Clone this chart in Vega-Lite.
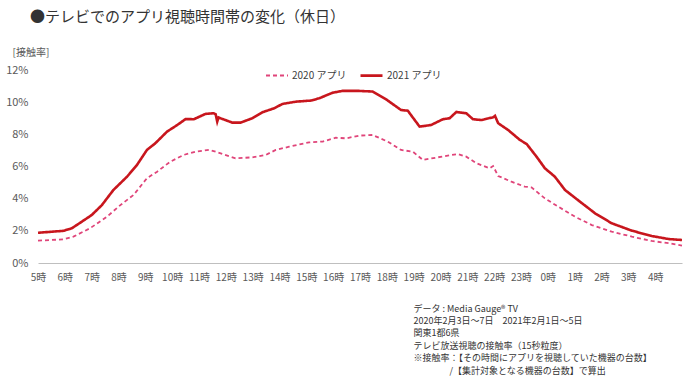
{
  "$schema": "https://vega.github.io/schema/vega-lite/v6.json",
  "autosize": {"type": "none"},
  "width": 644,
  "height": 193,
  "padding": {"left": 38, "top": 70, "right": 18, "bottom": 118},
  "background": "white",
  "config": {
    "view": {"stroke": null},
    "font": "Noto Sans CJK JP"
  },
  "title": {
    "text": "●テレビでのアプリ視聴時間帯の変化（休日）",
    "anchor": "start",
    "frame": "group",
    "fontSize": 15,
    "fontWeight": "normal",
    "color": "#333333",
    "dx": -8,
    "offset": 10,
    "dy": -12
  },
  "data": {
    "values": [
      {"year": "2020 アプリ", "hour": 5.0, "rate": 1.39},
      {"year": "2020 アプリ", "hour": 5.95, "rate": 1.47},
      {"year": "2020 アプリ", "hour": 6.32, "rate": 1.64},
      {"year": "2020 アプリ", "hour": 6.94, "rate": 2.16},
      {"year": "2020 アプリ", "hour": 7.57, "rate": 2.88},
      {"year": "2020 アプリ", "hour": 8.07, "rate": 3.6},
      {"year": "2020 アプリ", "hour": 8.56, "rate": 4.23},
      {"year": "2020 アプリ", "hour": 9.06, "rate": 5.27},
      {"year": "2020 アプリ", "hour": 9.44, "rate": 5.68},
      {"year": "2020 アプリ", "hour": 9.93, "rate": 6.3},
      {"year": "2020 アプリ", "hour": 10.43, "rate": 6.72},
      {"year": "2020 アプリ", "hour": 10.87, "rate": 6.92},
      {"year": "2020 アプリ", "hour": 11.37, "rate": 7.03},
      {"year": "2020 アプリ", "hour": 11.62, "rate": 6.92},
      {"year": "2020 アプリ", "hour": 12.11, "rate": 6.65},
      {"year": "2020 アプリ", "hour": 12.36, "rate": 6.51},
      {"year": "2020 アプリ", "hour": 12.99, "rate": 6.57},
      {"year": "2020 アプリ", "hour": 13.49, "rate": 6.72},
      {"year": "2020 アプリ", "hour": 13.86, "rate": 7.03},
      {"year": "2020 アプリ", "hour": 14.36, "rate": 7.23},
      {"year": "2020 アプリ", "hour": 15.1, "rate": 7.5},
      {"year": "2020 アプリ", "hour": 15.61, "rate": 7.55},
      {"year": "2020 アプリ", "hour": 16.1, "rate": 7.79},
      {"year": "2020 アプリ", "hour": 16.48, "rate": 7.75},
      {"year": "2020 アプリ", "hour": 16.97, "rate": 7.92},
      {"year": "2020 アプリ", "hour": 17.47, "rate": 7.96},
      {"year": "2020 アプリ", "hour": 18.03, "rate": 7.55},
      {"year": "2020 アプリ", "hour": 18.53, "rate": 7.03},
      {"year": "2020 アプリ", "hour": 18.97, "rate": 6.92},
      {"year": "2020 アプリ", "hour": 19.34, "rate": 6.41},
      {"year": "2020 アプリ", "hour": 19.9, "rate": 6.57},
      {"year": "2020 アプリ", "hour": 20.65, "rate": 6.78},
      {"year": "2020 アプリ", "hour": 20.96, "rate": 6.61},
      {"year": "2020 アプリ", "hour": 21.34, "rate": 6.2},
      {"year": "2020 アプリ", "hour": 21.83, "rate": 5.89},
      {"year": "2020 アプリ", "hour": 21.96, "rate": 6.03},
      {"year": "2020 アプリ", "hour": 22.15, "rate": 5.41},
      {"year": "2020 アプリ", "hour": 22.64, "rate": 5.06},
      {"year": "2020 アプリ", "hour": 23.14, "rate": 4.75},
      {"year": "2020 アプリ", "hour": 23.39, "rate": 4.7},
      {"year": "2020 アプリ", "hour": 23.89, "rate": 4.02},
      {"year": "2020 アプリ", "hour": 24.39, "rate": 3.5},
      {"year": "2020 アプリ", "hour": 25.01, "rate": 2.88},
      {"year": "2020 アプリ", "hour": 25.64, "rate": 2.36},
      {"year": "2020 アプリ", "hour": 26.38, "rate": 1.95},
      {"year": "2020 アプリ", "hour": 27.13, "rate": 1.64},
      {"year": "2020 アプリ", "hour": 27.87, "rate": 1.37},
      {"year": "2020 アプリ", "hour": 28.5, "rate": 1.23},
      {"year": "2020 アプリ", "hour": 29.0, "rate": 1.08},
      {"year": "2021 アプリ", "hour": 5.0, "rate": 1.88},
      {"year": "2021 アプリ", "hour": 5.95, "rate": 2.0},
      {"year": "2021 アプリ", "hour": 6.26, "rate": 2.16},
      {"year": "2021 アプリ", "hour": 6.57, "rate": 2.5},
      {"year": "2021 アプリ", "hour": 7.0, "rate": 2.98},
      {"year": "2021 アプリ", "hour": 7.38, "rate": 3.6},
      {"year": "2021 アプリ", "hour": 7.81, "rate": 4.54},
      {"year": "2021 アプリ", "hour": 8.32, "rate": 5.37},
      {"year": "2021 アプリ", "hour": 8.69, "rate": 6.1},
      {"year": "2021 アプリ", "hour": 9.06, "rate": 7.03},
      {"year": "2021 アプリ", "hour": 9.37, "rate": 7.44},
      {"year": "2021 アプリ", "hour": 9.81, "rate": 8.17},
      {"year": "2021 アプリ", "hour": 10.19, "rate": 8.58},
      {"year": "2021 アプリ", "hour": 10.5, "rate": 8.95},
      {"year": "2021 アプリ", "hour": 10.81, "rate": 8.94},
      {"year": "2021 アプリ", "hour": 11.24, "rate": 9.27},
      {"year": "2021 アプリ", "hour": 11.55, "rate": 9.31},
      {"year": "2021 アプリ", "hour": 11.62, "rate": 9.25},
      {"year": "2021 アプリ", "hour": 11.68, "rate": 8.79},
      {"year": "2021 アプリ", "hour": 11.73, "rate": 9.05},
      {"year": "2021 アプリ", "hour": 11.8, "rate": 9.0},
      {"year": "2021 アプリ", "hour": 12.24, "rate": 8.73},
      {"year": "2021 アプリ", "hour": 12.55, "rate": 8.73},
      {"year": "2021 アプリ", "hour": 12.99, "rate": 9.0},
      {"year": "2021 アプリ", "hour": 13.36, "rate": 9.37},
      {"year": "2021 アプリ", "hour": 13.8, "rate": 9.62},
      {"year": "2021 アプリ", "hour": 14.11, "rate": 9.89},
      {"year": "2021 アプリ", "hour": 14.61, "rate": 10.03},
      {"year": "2021 アプリ", "hour": 15.17, "rate": 10.1},
      {"year": "2021 アプリ", "hour": 15.48, "rate": 10.24},
      {"year": "2021 アプリ", "hour": 15.98, "rate": 10.59},
      {"year": "2021 アプリ", "hour": 16.35, "rate": 10.7},
      {"year": "2021 アプリ", "hour": 16.97, "rate": 10.7},
      {"year": "2021 アプリ", "hour": 17.47, "rate": 10.66},
      {"year": "2021 アプリ", "hour": 17.97, "rate": 10.18},
      {"year": "2021 アプリ", "hour": 18.53, "rate": 9.51},
      {"year": "2021 アプリ", "hour": 18.78, "rate": 9.47},
      {"year": "2021 アプリ", "hour": 19.22, "rate": 8.48},
      {"year": "2021 アプリ", "hour": 19.65, "rate": 8.58},
      {"year": "2021 アプリ", "hour": 20.09, "rate": 8.94},
      {"year": "2021 アプリ", "hour": 20.34, "rate": 9.0},
      {"year": "2021 アプリ", "hour": 20.59, "rate": 9.39},
      {"year": "2021 アプリ", "hour": 20.96, "rate": 9.31},
      {"year": "2021 アプリ", "hour": 21.21, "rate": 8.94},
      {"year": "2021 アプリ", "hour": 21.52, "rate": 8.89},
      {"year": "2021 アプリ", "hour": 21.96, "rate": 9.06},
      {"year": "2021 アプリ", "hour": 22.03, "rate": 9.15},
      {"year": "2021 アプリ", "hour": 22.15, "rate": 8.69},
      {"year": "2021 アプリ", "hour": 22.52, "rate": 8.27},
      {"year": "2021 アプリ", "hour": 22.96, "rate": 7.65},
      {"year": "2021 アプリ", "hour": 23.21, "rate": 7.4},
      {"year": "2021 アプリ", "hour": 23.58, "rate": 6.61},
      {"year": "2021 アプリ", "hour": 23.89, "rate": 5.89},
      {"year": "2021 アプリ", "hour": 24.26, "rate": 5.37},
      {"year": "2021 アプリ", "hour": 24.64, "rate": 4.54},
      {"year": "2021 アプリ", "hour": 25.2, "rate": 3.81},
      {"year": "2021 アプリ", "hour": 25.76, "rate": 3.09},
      {"year": "2021 アプリ", "hour": 26.38, "rate": 2.47},
      {"year": "2021 アプリ", "hour": 27.13, "rate": 2.01},
      {"year": "2021 アプリ", "hour": 27.87, "rate": 1.68},
      {"year": "2021 アプリ", "hour": 28.5, "rate": 1.49},
      {"year": "2021 アプリ", "hour": 29.0, "rate": 1.43}
    ]
  },
  "mark": {"type": "line", "interpolate": "linear"},
  "encoding": {
    "x": {
      "field": "hour",
      "type": "quantitative",
      "scale": {"domain": [5, 29], "nice": false, "zero": false},
      "axis": {
        "values": [5, 6, 7, 8, 9, 10, 11, 12, 13, 14, 15, 16, 17, 18, 19, 20, 21, 22, 23, 24, 25, 26, 27, 28],
        "labelExpr": "(datum.value % 24) + '時'",
        "grid": false,
        "ticks": false,
        "domain": true,
        "domainColor": "#BFBFBF",
        "domainWidth": 1,
        "labelFontSize": 10,
        "labelColor": "#595959",
        "labelPadding": 9,
        "labelFlush": false,
        "labelOverlap": false,
        "title": [
          "データ : Media Gauge® TV",
          "2020年2月3日～7日　2021年2月1日～5日",
          "関東1都6県",
          "テレビ放送視聴の接触率（15秒粒度）",
          "※接触率：【その時間にアプリを視聴していた機器の台数】",
          "\u200b　　　　/【集計対象となる機器の台数】で算出"
        ],
        "titleX": 375,
        "titleY": 41,
        "titleAlign": "left",
        "titleAnchor": "start",
        "titleBaseline": "top",
        "titleFontSize": 9,
        "titleFontWeight": "normal",
        "titleColor": "#333333",
        "titleLineHeight": 12.4
      }
    },
    "y": {
      "field": "rate",
      "type": "quantitative",
      "scale": {"domain": [0, 12], "nice": false},
      "axis": {
        "values": [0, 2, 4, 6, 8, 10, 12],
        "labelExpr": "datum.value + '%'",
        "grid": false,
        "ticks": false,
        "domain": false,
        "labelFontSize": 11,
        "labelColor": "#595959",
        "labelPadding": 10,
        "title": "[接触率]",
        "titleAngle": 0,
        "titleX": -26,
        "titleY": -18,
        "titleAlign": "left",
        "titleBaseline": "middle",
        "titleFontSize": 10,
        "titleFontWeight": "normal",
        "titleColor": "#595959"
      }
    },
    "color": {
      "field": "year",
      "type": "nominal",
      "scale": {"domain": ["2020 アプリ", "2021 アプリ"], "range": ["#E0457A", "#C8161D"]},
      "legend": {
        "title": null,
        "orient": "none",
        "direction": "horizontal",
        "legendX": 227,
        "legendY": -7,
        "symbolType": "stroke",
        "symbolSize": 484,
        "symbolStrokeWidth": 2.5,
        "labelFontSize": 10,
        "labelColor": "#404040",
        "labelOffset": 3,
        "columnPadding": 8
      }
    },
    "strokeDash": {
      "field": "year",
      "type": "nominal",
      "scale": {"domain": ["2020 アプリ", "2021 アプリ"], "range": [[4, 3], [1, 0]]},
      "legend": {
        "title": null,
        "orient": "none",
        "direction": "horizontal",
        "legendX": 227,
        "legendY": -7,
        "symbolType": "stroke",
        "symbolSize": 484,
        "symbolStrokeWidth": 2.5,
        "labelFontSize": 10,
        "labelColor": "#404040",
        "labelOffset": 3,
        "columnPadding": 8
      }
    },
    "strokeWidth": {
      "field": "year",
      "type": "nominal",
      "scale": {"domain": ["2020 アプリ", "2021 アプリ"], "range": [1.8, 2.6]},
      "legend": null
    }
  }
}
